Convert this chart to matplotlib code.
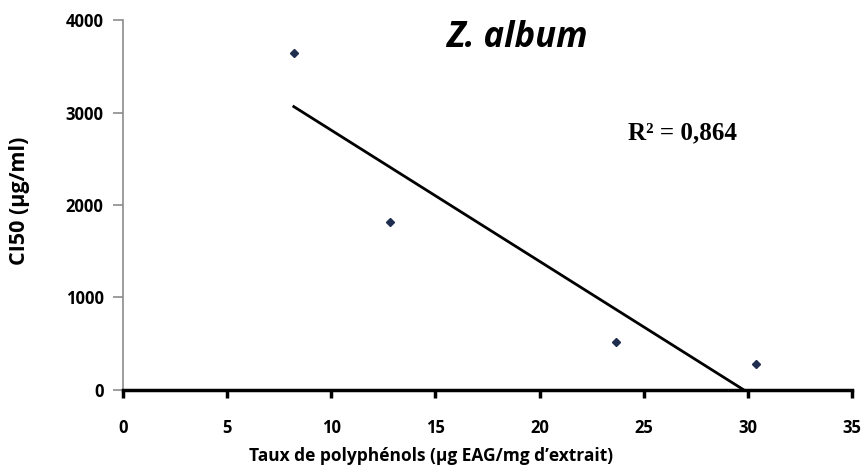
import numpy as np
import matplotlib.pyplot as plt

# polyphenol content vs IC50, Z. album extracts
polyphenols = [8.2, 12.8, 23.65, 30.4]
ci50 = [3640, 1820, 520, 285]
r2_label = 'R² = 0,864'

plt.rcParams['font.family'] = ['Open Sans', 'DejaVu Sans']

fig = plt.figure(figsize=(8.64, 4.73), dpi=100)
ax = fig.add_axes([0.1424, 0.1755, 0.8437, 0.7822])

ax.plot(polyphenols, ci50, 'D', color='#1f2d4f', markersize=4.5, zorder=3)

# linear trend line
slope, intercept = np.polyfit(polyphenols, ci50, 1)
xs = np.array([min(polyphenols), max(polyphenols)])
ax.plot(xs, slope * xs + intercept, color='black', linewidth=2)

ax.set_xlim(0, 35)
ax.set_ylim(0, 4000)
ax.set_xticks(np.arange(0, 36, 5))
ax.set_yticks(np.arange(0, 4001, 1000))

for s in ['top', 'right']:
    ax.spines[s].set_visible(False)
ax.spines['left'].set_color('#8c8c8c')
ax.spines['left'].set_linewidth(1.2)
ax.spines['bottom'].set_color('black')
ax.spines['bottom'].set_linewidth(2.5)
ax.tick_params(axis='x', direction='out', length=6, width=2.5, color='black', pad=15)
ax.tick_params(axis='y', direction='out', length=7, width=1.2, color='#8c8c8c', pad=7)
for lab in ax.get_xticklabels() + ax.get_yticklabels():
    lab.set_fontweight('bold')
    lab.set_fontsize(12)

ax.set_xlabel('Taux de polyphénols (µg EAG/mg d’extrait)', fontsize=12.5, fontweight='bold')
ax.xaxis.set_label_coords(0.423, -0.155)
ax.set_ylabel('CI50 (µg/ml)', fontsize=15.5, fontweight='bold')
ax.yaxis.set_label_coords(-0.127, 0.51)

ax.text(0.54, 0.951, 'Z. album', transform=ax.transAxes, ha='center', va='center',
        fontsize=25, fontweight='bold', fontstyle='italic')
ax.text(0.767, 0.695, r2_label, transform=ax.transAxes, ha='center', va='center',
        fontsize=18, fontweight='bold', family='Liberation Serif')

fig.savefig('out.png', dpi=100)
